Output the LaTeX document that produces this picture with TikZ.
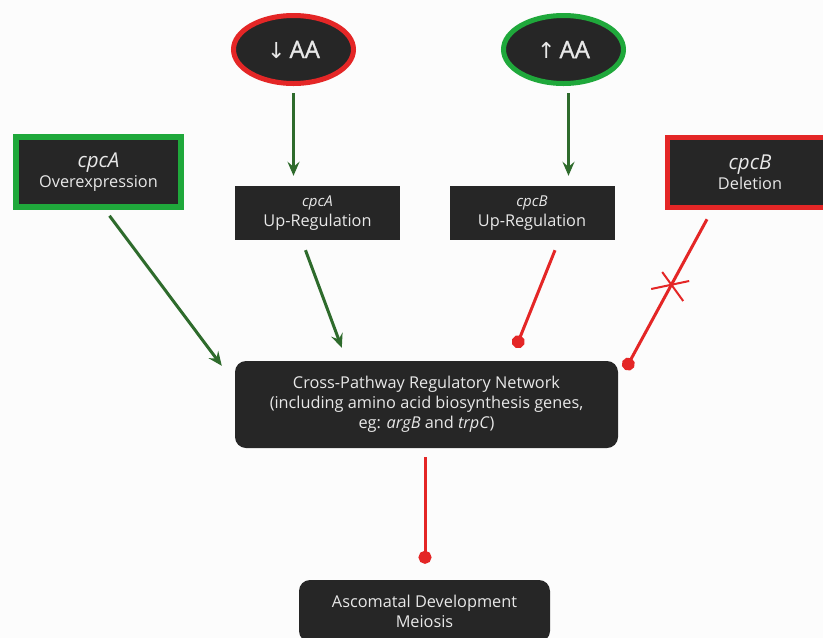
\documentclass[tikz,border=0pt]{standalone}
\usepackage{fontspec}
\setmainfont{Open Sans}
\newfontfamily\signalfont{Open Sans}[FakeBold=1.2]
\newfontfamily\arrowfont{DejaVu Sans}
\usetikzlibrary{arrows.meta,positioning,calc,shapes.geometric}
\definecolor{netdark}{HTML}{262626}
\definecolor{nettext}{HTML}{E8E8E8}
\definecolor{actgreen}{HTML}{2E6B2C}
\definecolor{rimgreen}{HTML}{1FA83B}
\definecolor{inhred}{HTML}{E42626}
\definecolor{paper}{HTML}{FCFCFC}

\begin{document}
\begin{tikzpicture}[
    x=1pt, y=-1pt,
    font=\fontsize{16.3}{20}\selectfont,
    dark/.style={
        fill=netdark,
        text=nettext,
        align=center,
        inner sep=0pt
    },
    signal/.style={
        dark,
        ellipse,
        line width=5pt,
        minimum width=120pt,
        minimum height=68pt,
        font=\fontsize{24}{28}\selectfont\signalfont
    },
    mutant/.style={
        dark,
        line width=5.5pt,
        minimum width=165pt,
        minimum height=70pt
    },
    geneup/.style={
        dark,
        minimum width=165pt,
        minimum height=54pt
    },
    network/.style={
        dark,
        rounded corners=11pt,
        minimum width=383pt,
        minimum height=87pt
    },
    promote/.style={-{Stealth[length=14pt,width=12pt,inset=5pt]},actgreen,line width=3pt},
    inhibit/.style={-{Circle[length=13pt]},inhred,line width=3pt}
]

% Page
\fill[paper] (0,0) rectangle (823,638);
\useasboundingbox (0,0) rectangle (823,638);

% Amino acid levels
\node[signal,draw=inhred] (lowAA) at (293.5,49.5) {{\arrowfont\fontsize{22}{26}\selectfont ↓}\,AA};
\node[signal,draw=rimgreen] (highAA) at (563.5,49.5) {{\arrowfont\fontsize{22}{26}\selectfont ↑}\,AA};

% Mutants and regulated genes
\node[mutant,draw=rimgreen] (overA) at (98.5,172) {{\fontsize{20.5}{21}\selectfont\itshape cpcA}\\Overexpression};
\node[mutant,draw=inhred] (delB) at (750,172.5) {{\fontsize{20.5}{21}\selectfont\itshape cpcB}\\Deletion};
\node[geneup] (upA) at (317.5,213) {{\fontsize{15}{18}\selectfont\itshape cpcA}\\Up-Regulation};
\node[geneup] (upB) at (532,213) {{\fontsize{15}{18}\selectfont\itshape cpcB}\\Up-Regulation};

% Network and outcome
\node[network] (net) at (426.5,404.5) {
    Cross-Pathway Regulatory Network\\
    (including amino acid biosynthesis genes,\\
    eg: \textit{argB} and \textit{trpC})
};
\node[network,minimum width=251pt,minimum height=62pt] (asco) at (424.5,611) {Ascomatal Development\\Meiosis};

% Signals into the genes
\draw[promote,shorten <=7pt,shorten >=10pt] (lowAA.south) -- (lowAA.south |- upA.north);
\draw[promote] ($(highAA.south)+(5,7)$) -- ($(highAA.south |- upB.north)+(5,-10)$);

% Into the network
\draw[promote] ($(overA.south)+(11,6)$) -- ($(net.north west)+(-13,5)$);
\draw[promote] ($(upA.south)+(-12,10)$) -- ($(net.north west)+(107,-13)$);
\draw[inhibit] ($(upB.south)+(23,10)$) -- ($(net.north west)+(281,-13)$);
\draw[inhibit] ($(delB.south)+(-43,9)$) -- coordinate[pos=0.45] (cut) ($(net.north east)+(7,9)$);
\draw[inhred,line width=2pt]
    ($(cut)+(-19,2)$) -- ($(cut)+(19,-6)$)
    ($(cut)+(-8,-15)$) -- ($(cut)+(13,14)$);

% Network onto development
\draw[inhibit] ($(net.south)+(-1.5,9)$) -- ($(asco.north)+(0.5,-16)$);

\end{tikzpicture}
\end{document}
